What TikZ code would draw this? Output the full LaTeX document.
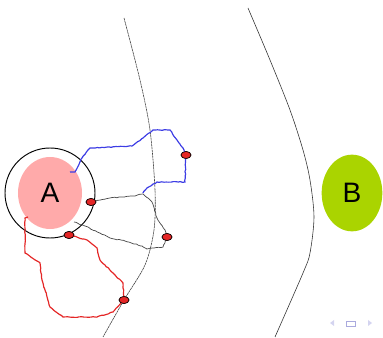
\documentclass[tikz,border=0pt]{standalone}
\usepackage{fontspec}
\setsansfont{Liberation Sans}
\usepackage{tikz}
\usetikzlibrary{shapes.geometric}
\usetikzlibrary{decorations.pathmorphing}
\tikzstyle{every wire} = [line width=1pt]
\tikzstyle{wire} = [draw, every wire, decorate, decoration={random steps, segment length=2pt, amplitude=0.35pt}]
\tikzstyle{set} = [ellipse, inner sep=0pt, font=\sffamily\fontsize{24}{24}\selectfont]
\tikzstyle{port} = [ellipse, draw, fill=portred, inner sep=0pt, line width=0.5pt, minimum width=0.3cm, minimum height=0.21cm]
\definecolor{setA}{RGB}{255,170,170}
\definecolor{setB}{RGB}{170,212,0}
\definecolor{portred}{RGB}{228,38,38}
\definecolor{wireblue}{RGB}{60,60,228}
\definecolor{wiregray}{RGB}{70,70,70}
\definecolor{navlight}{RGB}{212,212,240}
\definecolor{navdark}{RGB}{170,170,222}

\begin{document}
\begin{tikzpicture}[x=0.03cm, y=-0.03cm]
    \useasboundingbox (0,0) rectangle (383,338);
    \pgfmathsetseed{11}
    % the two borders
    \draw[line width=0.5pt, black!75, dash pattern=on 2pt off 0.5pt]
        plot[smooth] coordinates {(124,18) (140,80) (150,130) (155,190) (154,230) (145,265) (124,300) (103,337)};
    \draw[line width=0.5pt, black!80]
        plot[smooth] coordinates {(248,8) (270,60) (290,110) (303,150) (310,180) (314,217) (310,253) (303,273) (275,337)};

    % sets
    \node[circle, draw, line width=0.8pt, minimum size=2.7cm] (zone) at (50,193) {};
    \node[set, fill=setA, minimum width=1.92cm, minimum height=2.16cm] (A) at (50,193) {A};
    \node[set, fill=setB, minimum width=1.82cm, minimum height=2.3cm] (B) at (352,193) {B};

    % ports
    \node[port] (p1) at (186,155) {};
    \node[port] (p2) at (91,202) {};
    \node[port] (p3) at (69,235) {};
    \node[port] (p4) at (167,237) {};
    \node[port] (p5) at (124,300) {};

    \coordinate (a1) at (70,172);
    \coordinate (a2) at (28,217);
    \coordinate (a3) at (74,222);
    \coordinate (b1) at (143,193);

    % paths
    \path[wire, wireblue] (a1) -- (75,172) -- (82,158) -- (90,148) -- (132,146) -- (143,138) -- (153,130)
        -- (170,130) -- (177,140) -- (183,148) -- (p1.center) -- (185,182) -- (157,182) -- (147,188) -- (b1);
    \path[wire, wiregray, line width=0.6pt] (p2.center) -- (110,198) -- (133,196) -- (143,194) -- (152,202)
        -- (157,218) -- (165,230) -- (p4.center);
    \path[wire, wiregray, line width=0.6pt] (a3) -- (85,226) -- (110,238) -- (125,241) -- (142,246)
        -- (147,249) -- (163,247) -- (p4.center);
    \path[wire, portred] (a2) -- (25,218) -- (25,253) -- (40,263) -- (42,280) -- (50,307) -- (63,317)
        -- (97,317) -- (113,312) -- (p5.center);
    \path[wire, portred] (p3.center) -- (87,240) -- (97,248) -- (100,260) -- (113,273) -- (123,283) -- (p5.center);

    % ports again on top of the paths
    \foreach \p in {p1,p2,p3,p4,p5}
        \node[port] at (\p) {};

    % navigation
    \fill[navlight] (330,323) -- (334,320) -- (334,326) -- cycle;
    \draw[navdark, line width=0.6pt] (346,321) rectangle (355,326);
    \fill[navlight] (368,320) -- (372,323) -- (368,326) -- cycle;
\end{tikzpicture}
\end{document}
